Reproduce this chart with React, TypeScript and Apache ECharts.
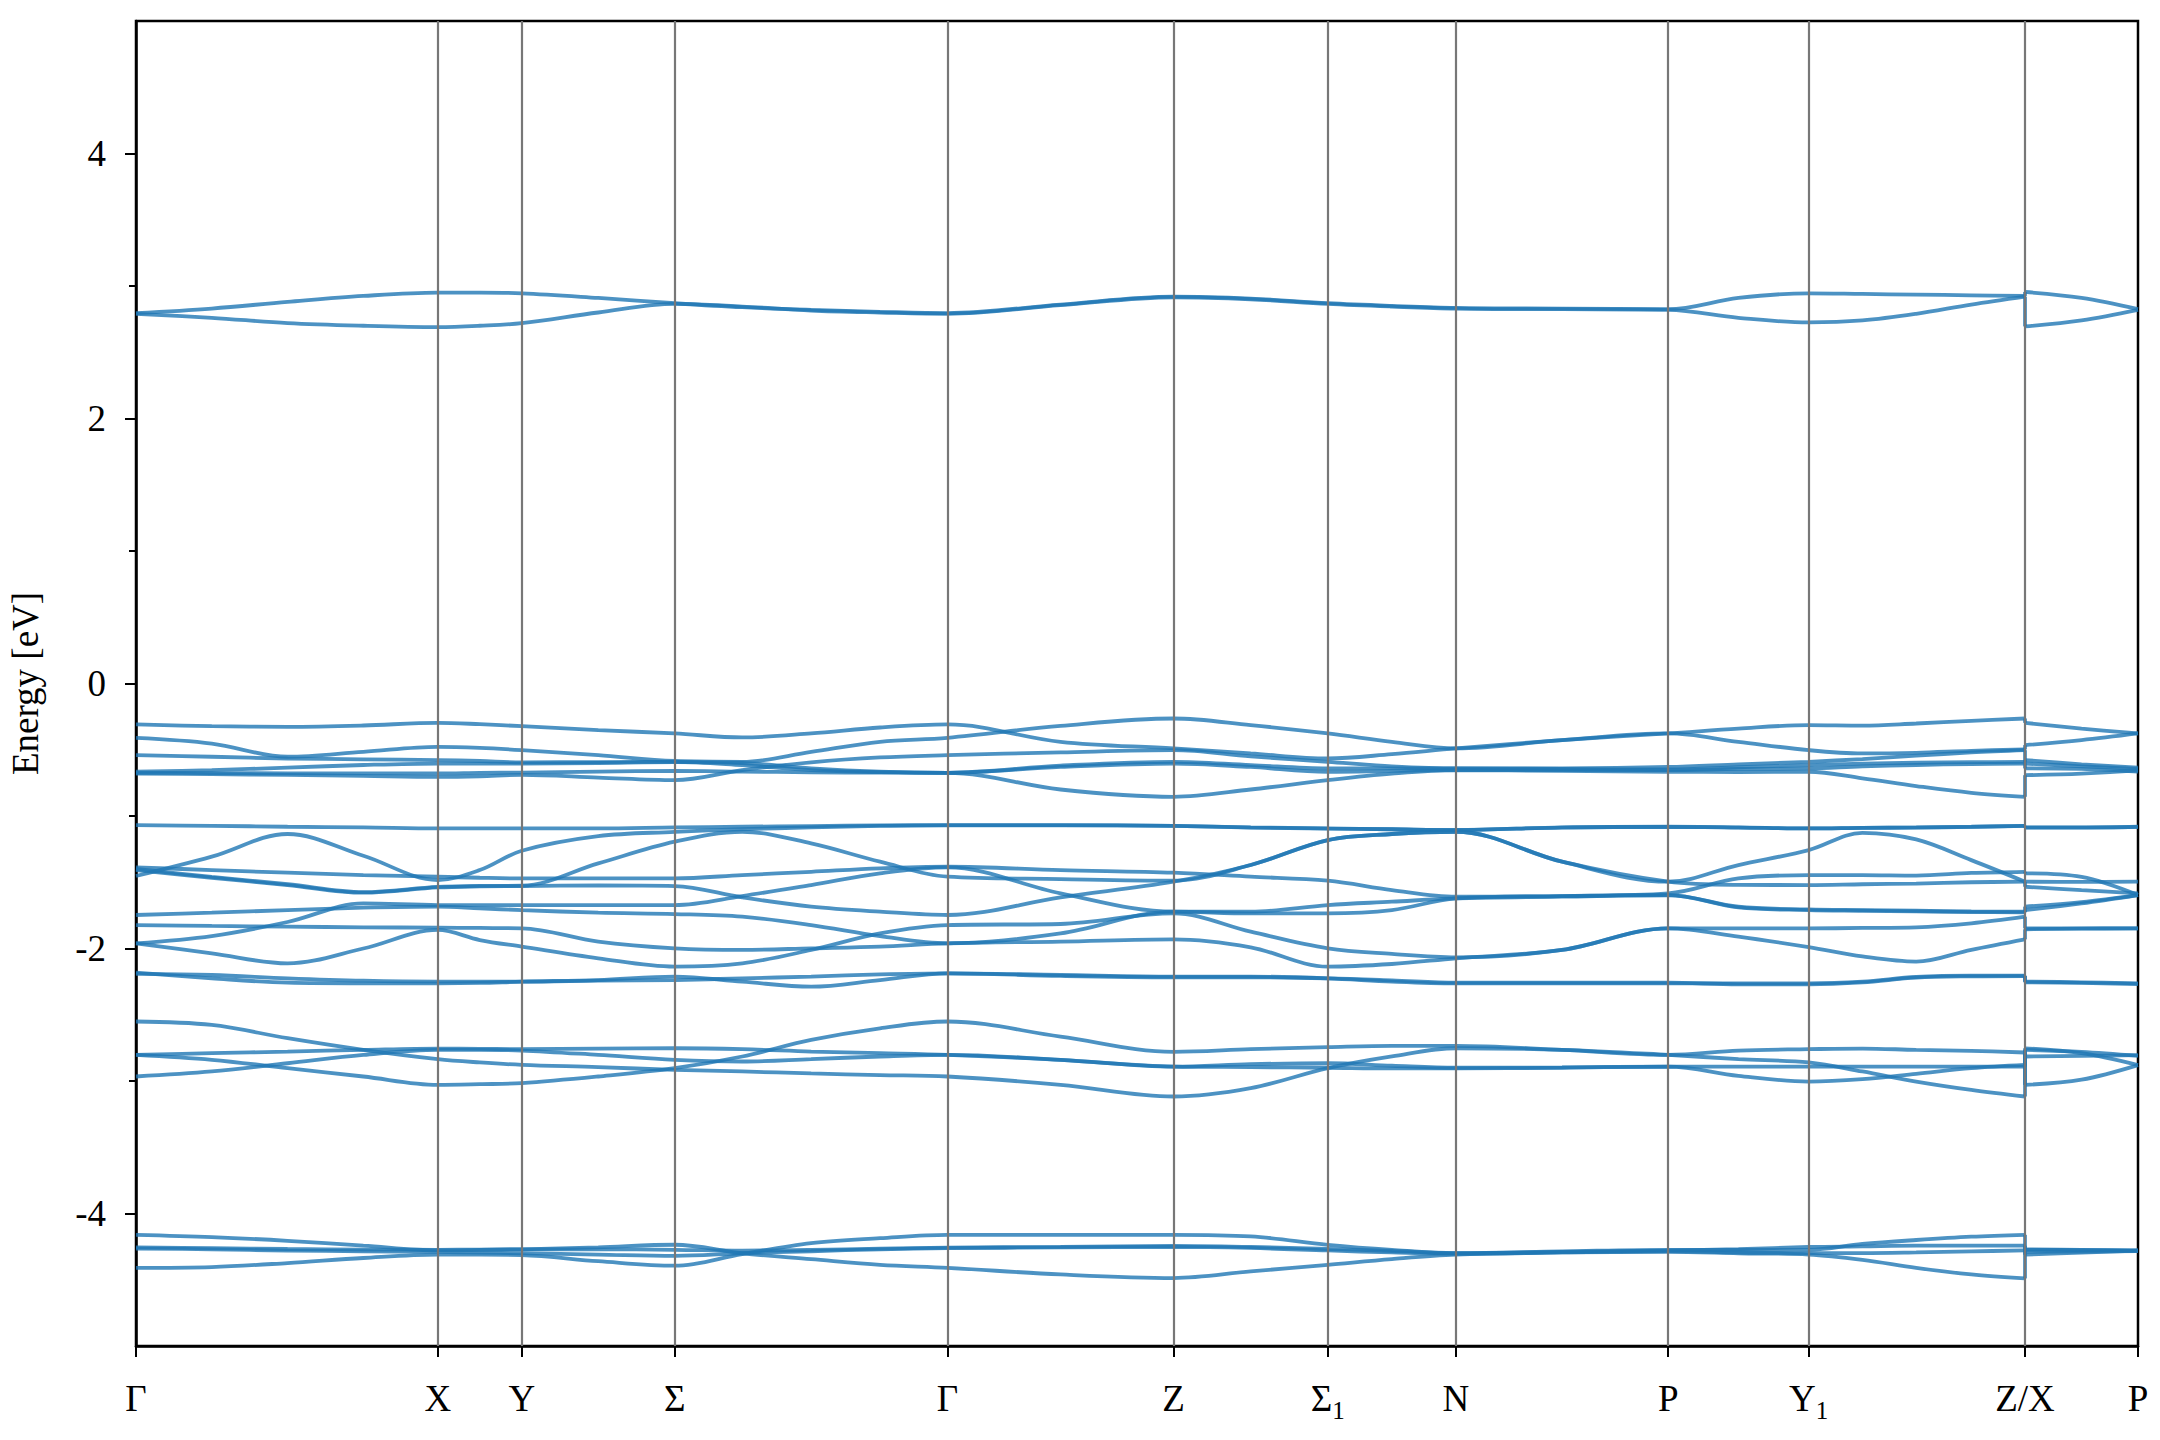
import React, { useEffect, useRef } from "react";
import * as echarts from "echarts";

// ---------- k-path (distance along the path) ----------
const kPath = [0, 55, 110, 165, 219, 249.5, 280, 335.5, 391, 440, 490, 540, 589, 671, 753, 809, 865, 911.5, 958, 1035, 1112, 1163, 1214, 1253, 1292, 1332, 1371];
const kXSide = [1371, 1412, 1453];
const tickK = [0, 219, 280, 391, 589, 753, 865, 958, 1112, 1214, 1371, 1453];
const tickNames = ["Γ", "X", "Y", "Σ", "Γ", "Z", "Σ1", "N", "P", "Y1", "Z/X", "P"];
const yMajorTicks = [-4, -2, 0, 2, 4];
const yMinorTicks = [-3, -1, 1, 3];

// ---------- bands (eV), path Γ..Z, then X..P ----------
const cb1 = [2.795, 2.83, 2.88, 2.925, 2.95, 2.95, 2.945, 2.91, 2.87, 2.84, 2.82, 2.805, 2.795, 2.86, 2.92, 2.905, 2.87, 2.85, 2.835, 2.83, 2.825, 2.91, 2.945, 2.94, 2.935, 2.93, 2.925];
const cb1X = [2.955, 2.91, 2.825];
const cb2 = [2.79, 2.76, 2.72, 2.7, 2.69, 2.7, 2.72, 2.8, 2.865, 2.845, 2.815, 2.8, 2.79, 2.855, 2.915, 2.9, 2.865, 2.845, 2.83, 2.825, 2.82, 2.76, 2.725, 2.74, 2.79, 2.86, 2.92];
const cb2X = [2.695, 2.74, 2.82];

const vA1 = [-0.309, -0.322, -0.327, -0.317, -0.297, -0.307, -0.322, -0.352, -0.377, -0.407, -0.377, -0.332, -0.309, -0.44, -0.49, -0.528, -0.566, -0.533, -0.49, -0.427, -0.377, -0.34, -0.314, -0.318, -0.302, -0.282, -0.264];
const vA1X = [-0.297, -0.34, -0.377];
const vA2 = [-0.41, -0.453, -0.553, -0.516, -0.478, -0.486, -0.503, -0.541, -0.585, -0.591, -0.516, -0.44, -0.41, -0.32, -0.264, -0.314, -0.377, -0.44, -0.49, -0.427, -0.377, -0.44, -0.503, -0.528, -0.523, -0.508, -0.498];
const vA2X = [-0.465, -0.427, -0.377];
const vA3 = [-0.541, -0.553, -0.566, -0.572, -0.578, -0.585, -0.595, -0.593, -0.591, -0.616, -0.654, -0.669, -0.674, -0.62, -0.591, -0.616, -0.641, -0.641, -0.641, -0.645, -0.649, -0.632, -0.616, -0.605, -0.598, -0.594, -0.591];
const vA3X = [-0.578, -0.61, -0.635];
const vA4 = [-0.666, -0.654, -0.635, -0.615, -0.604, -0.604, -0.604, -0.6, -0.594, -0.6, -0.64, -0.665, -0.674, -0.63, -0.604, -0.63, -0.666, -0.66, -0.654, -0.654, -0.654, -0.645, -0.641, -0.625, -0.615, -0.608, -0.604];
const vA4X = [-0.604, -0.625, -0.645];
const vA5 = [-0.674, -0.676, -0.678, -0.679, -0.679, -0.675, -0.672, -0.665, -0.66, -0.665, -0.67, -0.673, -0.674, -0.8, -0.855, -0.8, -0.729, -0.68, -0.654, -0.66, -0.666, -0.668, -0.666, -0.716, -0.774, -0.825, -0.855];
const vA5X = [-0.692, -0.68, -0.655];
const vA6 = [-0.68, -0.684, -0.69, -0.697, -0.704, -0.7, -0.69, -0.71, -0.729, -0.654, -0.595, -0.558, -0.541, -0.52, -0.503, -0.55, -0.591, -0.625, -0.641, -0.64, -0.63, -0.61, -0.591, -0.57, -0.545, -0.52, -0.503];
const vA6X = [-0.641, -0.645, -0.665];

const vB1 = [-1.069, -1.074, -1.081, -1.086, -1.094, -1.094, -1.094, -1.094, -1.086, -1.081, -1.076, -1.071, -1.069, -1.069, -1.074, -1.086, -1.094, -1.1, -1.106, -1.086, -1.081, -1.086, -1.094, -1.089, -1.086, -1.081, -1.074];
const vB1X = [-1.086, -1.086, -1.081];
const vB2 = [-1.453, -1.307, -1.136, -1.3, -1.483, -1.408, -1.262, -1.152, -1.12, -1.1, -1.086, -1.075, -1.07, -1.07, -1.075, -1.087, -1.095, -1.1, -1.105, -1.087, -1.082, -1.087, -1.094, -1.09, -1.087, -1.082, -1.075];
const vB2X = [-1.087, -1.087, -1.082];
const vB3 = [-1.388, -1.408, -1.428, -1.446, -1.458, -1.466, -1.471, -1.471, -1.471, -1.446, -1.421, -1.395, -1.383, -1.408, -1.428, -1.458, -1.488, -1.559, -1.609, -1.604, -1.584, -1.471, -1.446, -1.446, -1.45, -1.43, -1.421];
const vB3X = [-1.433, -1.46, -1.597];
const vB4 = [-1.408, -1.466, -1.521, -1.579, -1.539, -1.531, -1.529, -1.524, -1.529, -1.614, -1.684, -1.722, -1.747, -1.614, -1.496, -1.37, -1.182, -1.136, -1.119, -1.345, -1.496, -1.52, -1.521, -1.515, -1.51, -1.5, -1.496];
const vB4X = [-1.534, -1.56, -1.584];
const vB5 = [-1.4, -1.46, -1.515, -1.575, -1.535, -1.528, -1.526, -1.358, -1.194, -1.119, -1.207, -1.345, -1.458, -1.476, -1.488, -1.37, -1.182, -1.136, -1.119, -1.345, -1.496, -1.37, -1.257, -1.127, -1.177, -1.333, -1.496];
const vB5X = [-1.496, -1.497, -1.496];
const vB6 = [-1.961, -1.906, -1.8, -1.66, -1.672, -1.672, -1.672, -1.672, -1.672, -1.604, -1.521, -1.433, -1.388, -1.584, -1.722, -1.722, -1.672, -1.647, -1.622, -1.609, -1.597, -1.685, -1.705, -1.71, -1.715, -1.72, -1.722];
const vB6X = [-1.684, -1.65, -1.597];
const vB7 = [-1.747, -1.73, -1.71, -1.692, -1.684, -1.697, -1.71, -1.73, -1.74, -1.76, -1.823, -1.906, -1.961, -1.886, -1.722, -1.735, -1.735, -1.71, -1.622, -1.604, -1.597, -1.69, -1.71, -1.715, -1.72, -1.725, -1.727];
const vB7X = [-1.71, -1.66, -1.597];
const vB8 = [-1.823, -1.83, -1.835, -1.84, -1.843, -1.845, -1.848, -1.948, -1.999, -2.011, -1.999, -1.986, -1.961, -1.948, -1.931, -1.991, -2.137, -2.117, -2.074, -2.011, -1.848, -1.91, -1.99, -2.06, -2.099, -2.01, -1.931];
const vB8X = [-1.855, -1.85, -1.848];
const vB9 = [-1.961, -2.036, -2.112, -2.0, -1.86, -1.936, -1.986, -2.074, -2.137, -2.112, -2.011, -1.886, -1.823, -1.815, -1.735, -1.873, -1.999, -2.041, -2.067, -2.011, -1.848, -1.848, -1.848, -1.845, -1.84, -1.81, -1.76];
const vB9X = [-1.848, -1.848, -1.848];
const vB10 = [-2.182, -2.225, -2.258, -2.263, -2.263, -2.26, -2.25, -2.238, -2.212, -2.25, -2.288, -2.238, -2.187, -2.2, -2.212, -2.212, -2.225, -2.25, -2.263, -2.263, -2.263, -2.263, -2.263, -2.25, -2.215, -2.205, -2.205];
const vB10X = [-2.25, -2.255, -2.263];
const vB11 = [-2.192, -2.2, -2.225, -2.243, -2.25, -2.25, -2.25, -2.243, -2.238, -2.225, -2.212, -2.195, -2.187, -2.207, -2.217, -2.217, -2.225, -2.24, -2.258, -2.258, -2.258, -2.27, -2.27, -2.255, -2.22, -2.21, -2.208];
const vB11X = [-2.255, -2.26, -2.268];

const vC1 = [-2.551, -2.577, -2.677, -2.765, -2.835, -2.86, -2.878, -2.895, -2.916, -2.928, -2.943, -2.955, -2.966, -3.029, -3.117, -3.054, -2.903, -2.815, -2.753, -2.765, -2.803, -2.835, -2.86, -2.928, -3.004, -3.067, -3.117];
const vC1X = [-2.815, -2.81, -2.805];
const vC2 = [-2.803, -2.79, -2.778, -2.765, -2.755, -2.757, -2.76, -2.755, -2.753, -2.76, -2.778, -2.79, -2.803, -2.84, -2.891, -2.873, -2.866, -2.885, -2.9, -2.897, -2.891, -2.961, -3.004, -2.986, -2.946, -2.903, -2.878];
const vC2X = [-2.753, -2.79, -2.88];
const vC3 = [-2.803, -2.84, -2.903, -2.966, -3.029, -3.024, -3.016, -2.966, -2.903, -2.815, -2.69, -2.602, -2.551, -2.665, -2.78, -2.76, -2.745, -2.735, -2.735, -2.765, -2.803, -2.77, -2.76, -2.755, -2.765, -2.772, -2.785];
const vC3X = [-3.029, -2.99, -2.88];
const vC4 = [-2.966, -2.928, -2.866, -2.803, -2.765, -2.765, -2.77, -2.803, -2.84, -2.853, -2.835, -2.815, -2.803, -2.84, -2.891, -2.895, -2.9, -2.905, -2.905, -2.9, -2.891, -2.891, -2.891, -2.891, -2.891, -2.891, -2.891];
const vC4X = [-2.765, -2.78, -2.81];

const vD1 = [-4.161, -4.178, -4.206, -4.243, -4.279, -4.275, -4.27, -4.255, -4.236, -4.3, -4.344, -4.387, -4.41, -4.46, -4.487, -4.437, -4.387, -4.344, -4.311, -4.294, -4.29, -4.3, -4.31, -4.35, -4.41, -4.46, -4.49];
const vD1X = [-4.27, -4.275, -4.28];
const vD2 = [-4.255, -4.262, -4.268, -4.272, -4.274, -4.272, -4.27, -4.27, -4.274, -4.28, -4.275, -4.265, -4.258, -4.252, -4.245, -4.253, -4.268, -4.283, -4.299, -4.289, -4.279, -4.269, -4.253, -4.248, -4.243, -4.243, -4.243];
const vD2X = [-4.274, -4.276, -4.279];
const vD3 = [-4.265, -4.27, -4.28, -4.285, -4.29, -4.295, -4.3, -4.31, -4.32, -4.3, -4.285, -4.27, -4.262, -4.256, -4.252, -4.26, -4.279, -4.294, -4.304, -4.294, -4.284, -4.294, -4.299, -4.299, -4.294, -4.286, -4.279];
const vD3X = [-4.29, -4.287, -4.284];
const vD4 = [-4.41, -4.404, -4.374, -4.336, -4.311, -4.311, -4.314, -4.36, -4.394, -4.306, -4.223, -4.186, -4.161, -4.161, -4.161, -4.173, -4.236, -4.274, -4.299, -4.286, -4.274, -4.275, -4.274, -4.23, -4.2, -4.175, -4.161];
const vD4X = [-4.311, -4.295, -4.28];

const bands: number[][][] = [
  [cb1, cb1X], [cb2, cb2X],
  [vA1, vA1X], [vA2, vA2X], [vA3, vA3X], [vA4, vA4X], [vA5, vA5X], [vA6, vA6X],
  [vB1, vB1X], [vB2, vB2X], [vB3, vB3X], [vB4, vB4X], [vB5, vB5X], [vB6, vB6X],
  [vB7, vB7X], [vB8, vB8X], [vB9, vB9X], [vB10, vB10X], [vB11, vB11X],
  [vC1, vC1X], [vC2, vC2X], [vC3, vC3X], [vC4, vC4X],
  [vD1, vD1X], [vD2, vD2X], [vD3, vD3X], [vD4, vD4X],
];

const FONT = "Liberation Serif";
const BAND_COLOR = "#1f77b4";
const FS = 37;

const richText = {
  m: { fontSize: FS, fontFamily: FONT, color: "#000", lineHeight: 50 },
  s: { fontSize: 25, fontFamily: FONT, color: "#000", lineHeight: 25, verticalAlign: "bottom" },
};

function labelFor(v: number): string {
  const i = tickK.findIndex((k) => Math.abs(k - v) < 0.5);
  if (i < 0) return "";
  const n = tickNames[i];
  if (n === "Σ1") return "{m|Σ}{s|1}";
  if (n === "Y1") return "{m|Y}{s|1}";
  return "{m|" + n + "}";
}

function buildOption(): any {
  const lineStyle = { color: BAND_COLOR, width: 3.8, opacity: 0.8 };
  const series: any[] = [];
  series.push({
    type: "line",
    data: [],
    silent: true,
    z: 1,
    markLine: {
      silent: true,
      symbol: ["none", "none"],
      label: { show: false },
      lineStyle: { color: "#777", width: 2.2, type: "solid", opacity: 1 },
      emphasis: { disabled: true },
      data: tickK.slice(1, -1).map((k) => ({ xAxis: k })),
    },
  });
  bands.forEach(([main, side]) => {
    series.push({
      type: "line",
      data: kPath.map((k, i) => [k, main[i]]),
      smooth: 0.35,
      symbol: "none",
      lineStyle,
      silent: true,
      z: 2,
    });
    series.push({
      type: "line",
      data: kXSide.map((k, i) => [k, side[i]]),
      smooth: 0.35,
      symbol: "none",
      lineStyle,
      silent: true,
      z: 2,
    });
    series.push({
      type: "line",
      data: [
        [kPath[kPath.length - 1], main[main.length - 1]],
        [kXSide[0], side[0]],
      ],
      symbol: "none",
      lineStyle,
      silent: true,
      z: 2,
    });
  });

  return {
    animation: false,
    backgroundColor: "#fff",
    textStyle: { fontFamily: FONT },
    grid: {
      left: 136,
      right: 22,
      top: 21,
      bottom: 94,
      show: true,
      borderColor: "#000",
      borderWidth: 2.5,
      outerBoundsMode: "none",
    },
    xAxis: {
      type: "value",
      min: 0,
      max: 1453,
      axisLine: { show: true, onZero: false, lineStyle: { color: "#000", width: 2.5 } },
      axisTick: { show: true, customValues: tickK, length: 11, lineStyle: { color: "#000", width: 2 } },
      axisLabel: {
        customValues: tickK,
        formatter: labelFor,
        margin: 27,
        color: "#000",
        fontFamily: FONT,
        fontSize: FS,
        lineHeight: 50,
        rich: richText,
      },
      splitLine: { show: false },
    },
    yAxis: [
      {
        type: "value",
        min: -5,
        max: 5,
        position: "left",
        name: "Energy [eV]",
        nameLocation: "middle",
        nameRotate: 90,
        nameGap: 92,
        nameTextStyle: { fontSize: FS, fontFamily: FONT, color: "#000" },
        axisLine: { show: true, onZero: false, lineStyle: { color: "#000", width: 2.5 } },
        axisTick: { show: true, customValues: yMajorTicks, length: 11, lineStyle: { color: "#000", width: 2 } },
        axisLabel: {
          customValues: yMajorTicks,
          formatter: (v: number) => "{m|" + String(v) + "}",
          margin: 30,
          color: "#000",
          fontFamily: FONT,
          fontSize: FS,
          rich: { m: { fontSize: FS, fontFamily: FONT, color: "#000" } },
        },
        splitLine: { show: false },
      },
      {
        type: "value",
        min: -5,
        max: 5,
        position: "left",
        axisLine: { show: false, onZero: false },
        axisTick: { show: true, customValues: yMinorTicks, length: 7, lineStyle: { color: "#000", width: 2 } },
        axisLabel: { show: false },
        splitLine: { show: false },
      },
    ],
    series,
  };
}

export default function App() {
  const ref = useRef<HTMLDivElement>(null);
  useEffect(() => {
    if (!ref.current) return;
    const chart = echarts.init(ref.current, undefined, { renderer: "svg" });
    chart.setOption(buildOption());
    return () => chart.dispose();
  }, []);
  return (
    <div
      ref={ref}
      style={{ position: "fixed", left: 0, top: 0, width: 2160, height: 1440, background: "#fff" }}
    />
  );
}
